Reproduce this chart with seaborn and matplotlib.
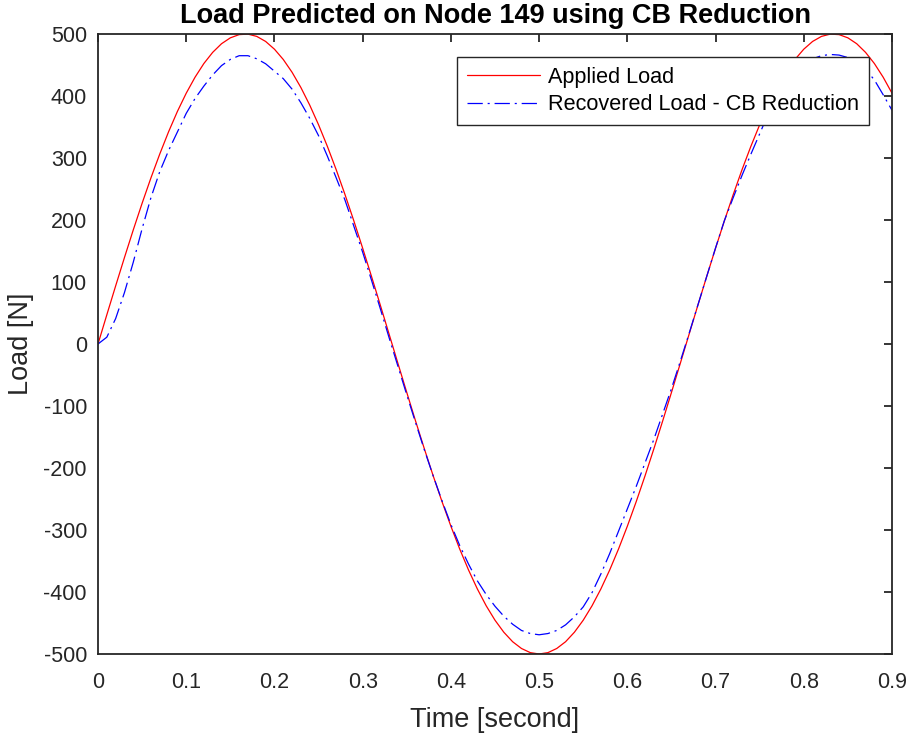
import numpy as np
import pandas as pd
import matplotlib
matplotlib.use("Agg")
import matplotlib.pyplot as plt
import seaborn as sns

# Sample times [s]
time_s = np.round(np.linspace(0.0, 0.9, 91), 2)

# Applied load [N]
applied_load = [
    0.0, 47.1, 93.7, 139.5, 184.1, 227.0, 267.9, 306.4, 342.3, 375.1,
    404.5, 430.3, 452.4, 470.4, 484.3, 493.8, 499.0, 499.8, 496.1, 488.0,
    475.5, 458.9, 438.2, 413.6, 385.3, 353.6, 318.7, 281.1, 240.9, 198.6,
    154.5, 109.1, 62.7, 15.7, -31.4, -78.2, -124.4, -169.4, -212.9, -254.5,
    -293.9, -330.7, -364.5, -395.1, -422.2, -445.5, -464.9, -480.2, -491.1, -497.8,
    -500.0, -497.8, -491.1, -480.2, -464.9, -445.5, -422.2, -395.1, -364.5, -330.7,
    -293.9, -254.5, -212.9, -169.4, -124.4, -78.2, -31.4, 15.7, 62.7, 109.1,
    154.5, 198.6, 240.9, 281.1, 318.7, 353.6, 385.3, 413.6, 438.2, 458.9,
    475.5, 488.0, 496.1, 499.8, 499.0, 493.8, 484.3, 470.4, 452.4, 430.3,
    404.5,
]

# Load recovered with the CB-reduced model [N]
recovered_load = [
    0, 11, 41, 83, 132, 186, 236, 278, 312, 342,
    372, 396, 416, 434, 449, 459, 465, 465, 460, 452,
    440, 428, 411, 389, 364, 336, 303, 268, 232, 190,
    148, 103, 57, 10, -36, -82, -127, -171, -213, -253,
    -291, -325, -355, -382, -404, -423, -439, -452, -462, -467,
    -469, -467, -462, -453, -440, -424, -401, -371, -338, -302,
    -266, -230, -192, -154, -113, -72, -28, 17, 63, 109,
    155, 199, 236, 272, 306, 339, 372, 398, 420, 437,
    451, 460, 465, 467, 466, 462, 454, 443, 426, 402,
    377,
]

x_tick_labels = ["0", "0.1", "0.2", "0.3", "0.4", "0.5", "0.6", "0.7", "0.8", "0.9"]
series_names = ["Applied Load", "Recovered Load - CB Reduction"]
series_colors = {"Applied Load": "#ff0000", "Recovered Load - CB Reduction": "#0000ff"}
series_dashes = {"Applied Load": "", "Recovered Load - CB Reduction": (11, 3.5, 1.5, 3.5)}

df = pd.concat([
    pd.DataFrame({"Time": time_s, "Load": applied_load, "Series": series_names[0]}),
    pd.DataFrame({"Time": time_s, "Load": recovered_load, "Series": series_names[1]}),
], ignore_index=True)

sns.set_theme(style="white")
plt.rcParams["font.family"] = ["Liberation Sans", "DejaVu Sans"]
plt.rcParams["lines.scale_dashes"] = False
plt.rcParams["axes.unicode_minus"] = False

ink = "#262626"
fig = plt.figure(figsize=(9.09, 7.33), dpi=100)
ax = fig.add_axes([98 / 909, 1 - 654 / 733, 794 / 909, 620 / 733])

sns.lineplot(data=df, x="Time", y="Load", hue="Series", style="Series",
             palette=series_colors, dashes=series_dashes, hue_order=series_names,
             style_order=series_names, linewidth=0.9, ax=ax, legend=True)

ax.set_xlim(0, 0.9)
ax.set_ylim(-500, 500)
ax.set_xticks(np.round(np.arange(0, 0.91, 0.1), 1))
ax.set_xticklabels(x_tick_labels)
ax.set_yticks(np.arange(-500, 501, 100))

for sp in ax.spines.values():
    sp.set_visible(True)
    sp.set_color(ink)
    sp.set_linewidth(1.3)

ax.tick_params(axis="both", which="both", direction="in", length=6, width=1.3,
               colors=ink, labelsize=15.5, top=True, right=True,
               labelcolor=ink)
ax.tick_params(axis="x", pad=13)
ax.tick_params(axis="y", pad=8)

ax.set_xlabel("Time [second]", fontsize=19.5, color=ink, labelpad=10)
ax.set_ylabel("Load [N]", fontsize=19.5, color=ink, labelpad=7)
ax.set_title("Load Predicted on Node 149 using CB Reduction", fontsize=19.5,
             fontweight="bold", color="black", pad=8)

handles, labels = ax.get_legend_handles_labels()
leg = ax.legend(handles, labels, loc="upper right",
                bbox_to_anchor=((869 - 98) / 794, (654 - 57) / 620),
                borderaxespad=0, fontsize=15.6, frameon=True, fancybox=False,
                handlelength=3.35, handletextpad=0.4, borderpad=0.45,
                labelspacing=0.3, edgecolor=ink, framealpha=1)
leg.get_frame().set_linewidth(1.0)
for t in leg.get_texts():
    t.set_color("black")

fig.savefig("out.png", dpi=100)
